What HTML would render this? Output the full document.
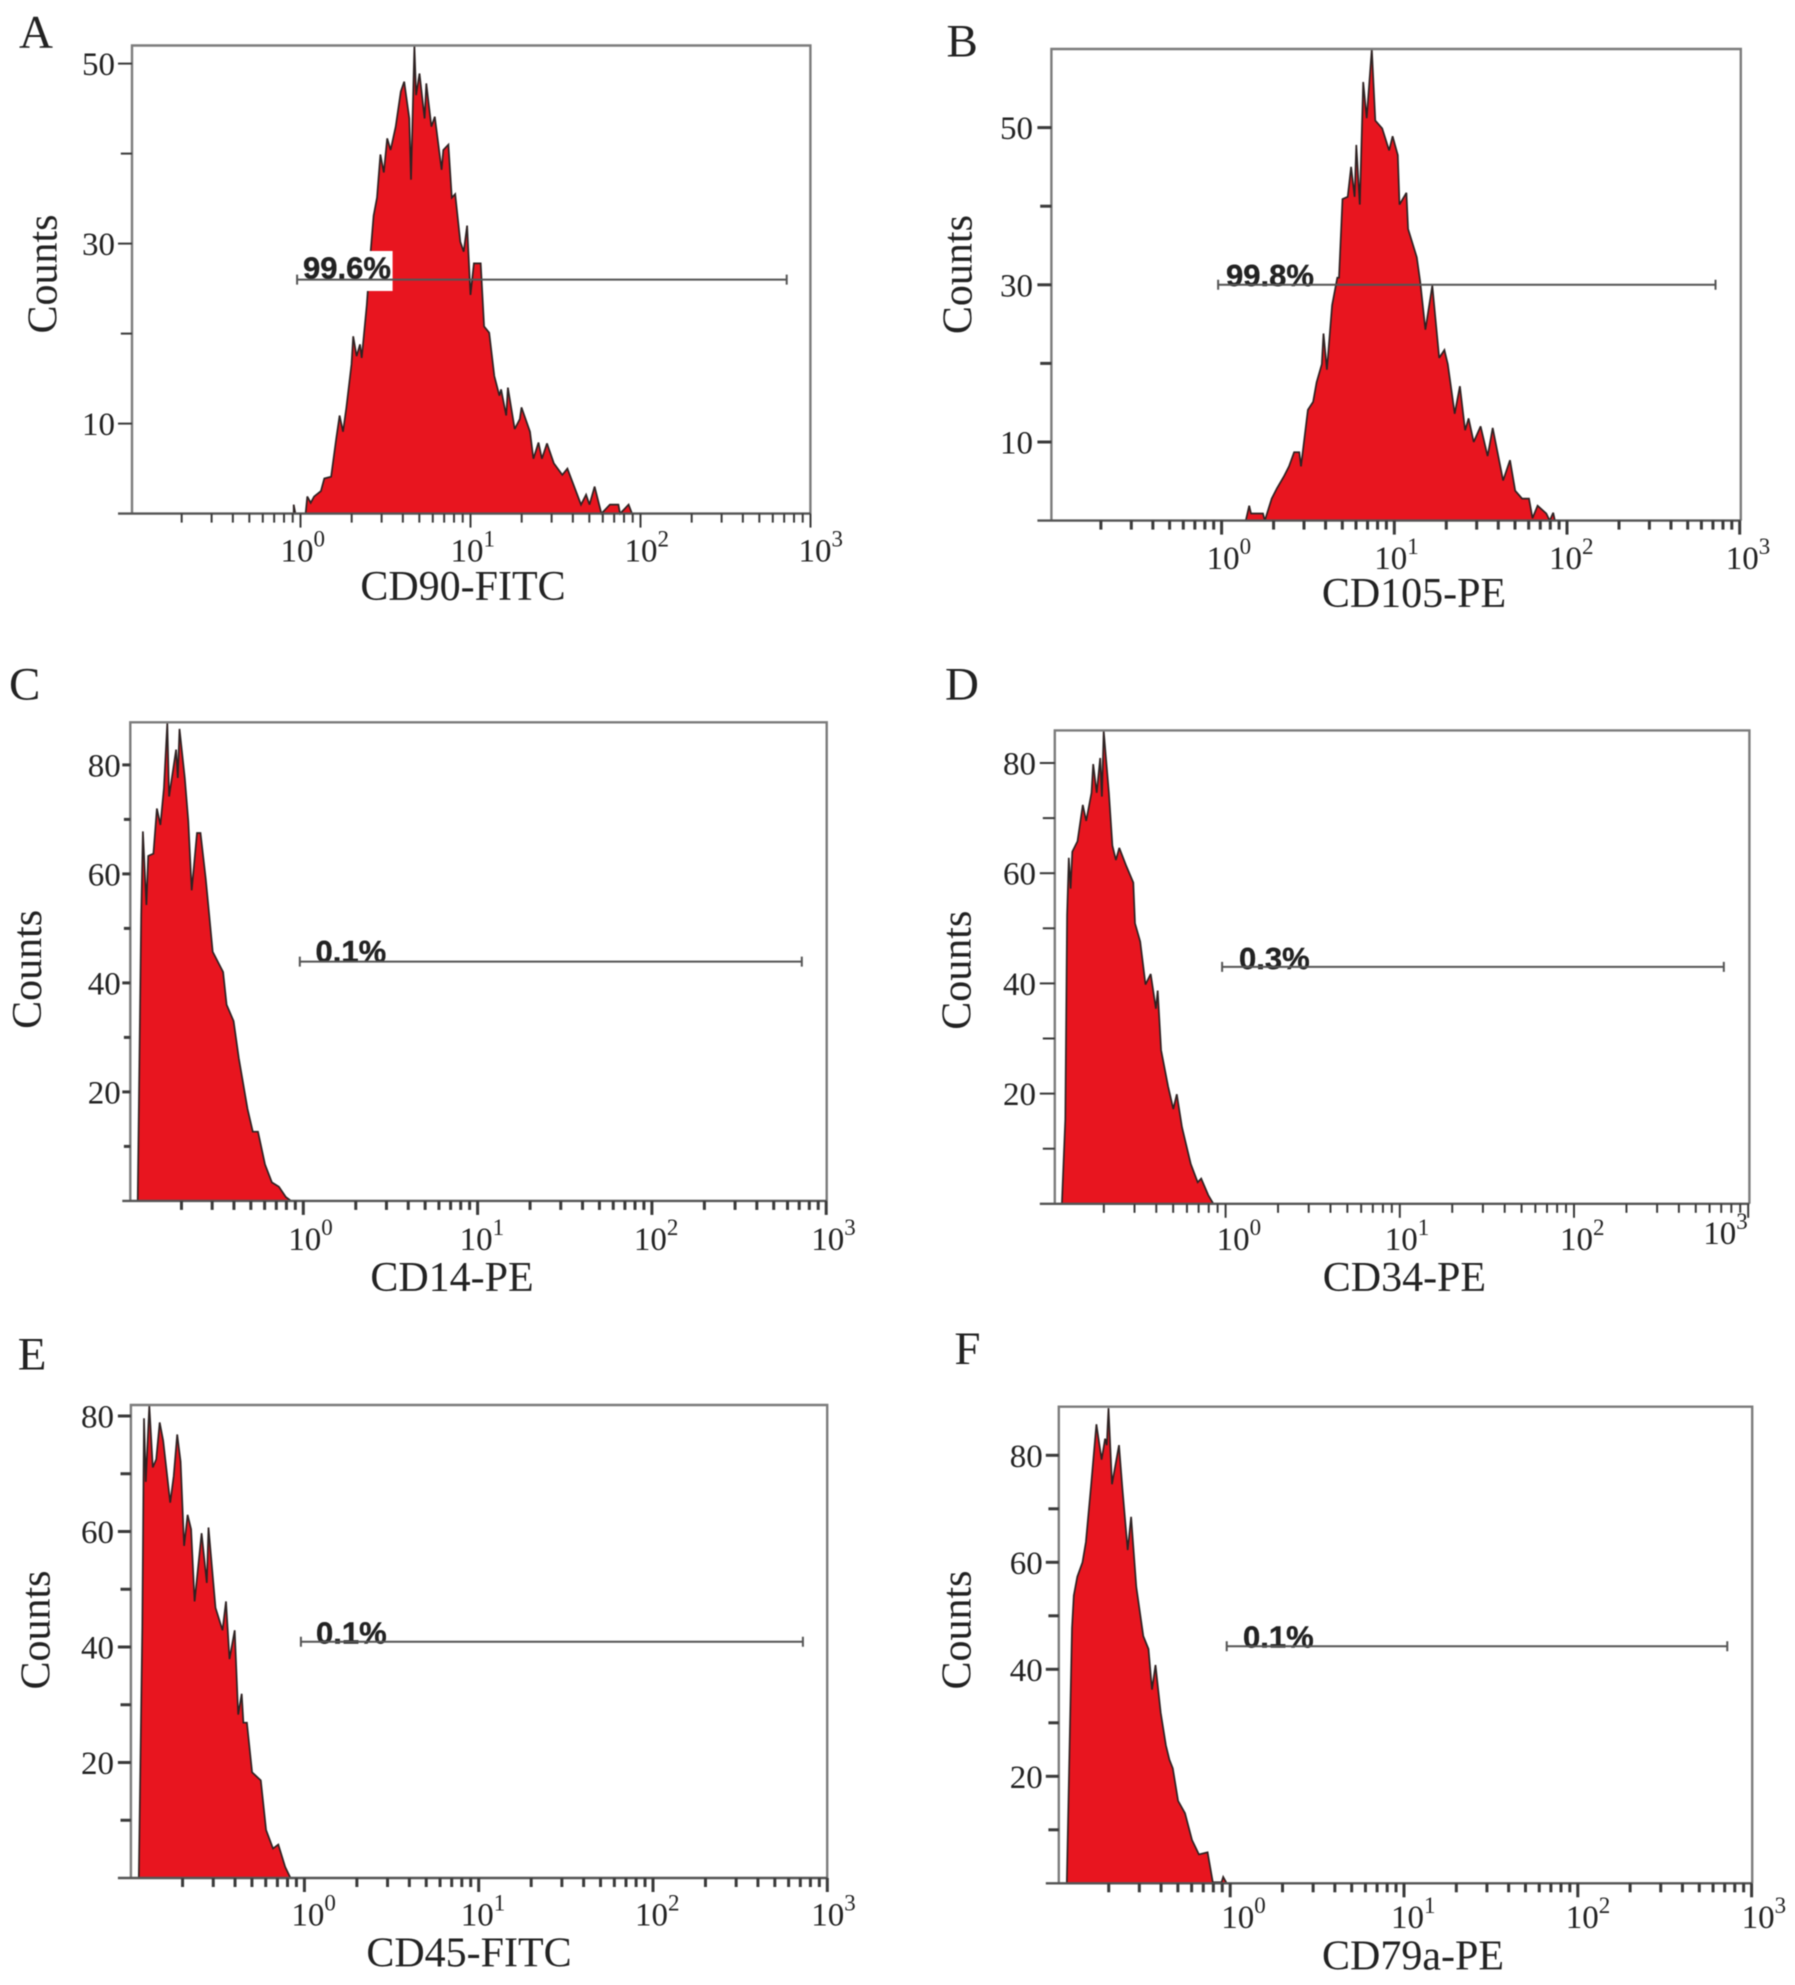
<!DOCTYPE html>
<html lang="en">
<head>
<meta charset="utf-8">
<title>Flow cytometry histograms of surface markers</title>
<style>
html,body{margin:0;padding:0;background:#fff;width:1795px;height:1985px;overflow:hidden}
svg{display:block;filter:blur(0.6px)}
text{font-family:"Liberation Serif",serif;fill:#222}
.gate-text{font-family:"Liberation Sans",sans-serif;font-weight:bold;font-size:31px;fill:#222;stroke:#222;stroke-width:0.4px}
</style>
</head>
<body>
<svg id="figure" xmlns="http://www.w3.org/2000/svg" width="1795" height="1985" viewBox="0 0 1795 1985"></svg>
<script>
// Panel A: CD90-FITC. Intensity is stored as log10(fluorescence), counts as events.
var logA = [-0.04,-0.04,-0.03,0.03,0.04,0.06,0.08,0.12,0.14,0.18,0.21,0.23,0.25,0.27,0.30,0.31,0.33,0.35,0.36,0.39,0.41,0.43,0.45,0.47,0.49,0.51,0.53,0.56,0.59,0.61,0.64,0.65,0.67,0.68,0.70,0.73,0.74,0.77,0.79,0.83,0.84,0.87,0.89,0.91,0.94,0.96,0.98,1.00,1.02,1.06,1.08,1.11,1.14,1.17,1.18,1.21,1.22,1.26,1.29,1.30,1.35,1.37,1.40,1.42,1.45,1.49,1.54,1.57,1.62,1.65,1.68,1.70,1.73,1.77,1.82,1.87,1.88,1.93,1.95];
var countsA = [0,1.0,0,0,1.9,1.2,1.9,2.5,3.9,4.1,8.3,10.9,9.1,11.8,16.6,19.7,17.5,18.8,17.3,23.2,28.5,33.1,35.1,39.9,37.9,41.7,40.4,43.0,46.9,48.0,43.9,37.1,52.0,46.5,48.9,43.9,47.8,43.0,44.1,38.2,40.4,41.0,35.1,35.5,30.2,29.1,32.0,24.3,27.8,27.8,20.8,20.1,15.3,13.1,13.8,10.9,14.0,9.4,10.5,11.8,9.1,6.1,7.9,6.1,7.8,5.6,4.3,5.0,2.5,1.0,2.1,1.0,3.0,0,1,1,0,1,0];
// Panel B: CD105-PE
var logB = [0.14,0.16,0.17,0.24,0.25,0.29,0.32,0.36,0.39,0.42,0.45,0.46,0.50,0.53,0.55,0.58,0.59,0.61,0.64,0.67,0.68,0.70,0.73,0.75,0.77,0.78,0.80,0.82,0.84,0.87,0.89,0.93,0.97,0.99,1.02,1.03,1.07,1.08,1.13,1.15,1.18,1.22,1.26,1.29,1.31,1.35,1.38,1.41,1.43,1.46,1.50,1.54,1.57,1.63,1.67,1.70,1.74,1.78,1.80,1.83,1.88,1.90,1.92,1.93];
var countsB = [0,1.9,0.9,0.9,0,2.8,4.1,5.6,6.9,8.7,8.7,6.9,14.1,15.1,17.6,19.9,23.8,19.2,27.4,30.9,30.9,40.9,41.2,45.0,41.2,47.8,40.2,55.8,51.2,60,50.9,49.9,47.1,48.9,46.5,40.2,41.7,37.1,33.5,30.4,24.3,29.9,20.7,21.7,19.9,13.6,17.1,11.5,13.0,10.0,12.0,8.2,11.8,5.1,7.7,3.8,2.8,2.8,0.3,1.9,0.9,0,1.0,0];
// Panel C: CD14-PE
var logC = [-0.95,-0.93,-0.92,-0.90,-0.89,-0.86,-0.84,-0.82,-0.80,-0.78,-0.77,-0.73,-0.72,-0.71,-0.68,-0.66,-0.64,-0.61,-0.59,-0.56,-0.54,-0.52,-0.46,-0.44,-0.40,-0.37,-0.32,-0.29,-0.26,-0.22,-0.18,-0.14,-0.10,-0.07];
var countsC = [0,52.5,67.8,54.3,63.3,63.7,72.0,69.0,75.7,87.7,74.2,82.8,77.6,86.6,77.6,69.7,57.0,67.5,67.5,59.2,52.5,45.7,42.0,36.0,33.0,26.2,16.9,12.7,12.7,6.7,3.4,2.6,0.7,0];
// Panel D: CD34-PE
var logD = [-0.94,-0.92,-0.91,-0.90,-0.89,-0.88,-0.85,-0.82,-0.80,-0.77,-0.76,-0.74,-0.72,-0.71,-0.70,-0.67,-0.65,-0.63,-0.61,-0.57,-0.53,-0.52,-0.49,-0.46,-0.43,-0.40,-0.39,-0.37,-0.33,-0.30,-0.28,-0.25,-0.20,-0.16,-0.14,-0.10,-0.07];
var countsD = [0,15.3,52.4,62.8,57.2,63.9,65.8,72.4,69.5,74.6,79.8,74.6,80.9,73.9,85.8,74.6,65.0,62.4,64.6,61.3,58.3,50.9,47.6,39.8,41.7,35.4,38.7,27.9,21.3,17.2,19.9,13.9,7.2,3.9,4.6,1.6,0];
// Panel E: CD45-FITC
var logE = [-0.95,-0.93,-0.92,-0.91,-0.89,-0.87,-0.85,-0.83,-0.81,-0.77,-0.75,-0.73,-0.71,-0.69,-0.67,-0.65,-0.63,-0.59,-0.56,-0.55,-0.51,-0.47,-0.45,-0.43,-0.40,-0.38,-0.36,-0.35,-0.33,-0.30,-0.25,-0.22,-0.18,-0.15,-0.11,-0.08];
var countsE = [0,43.3,79.6,68.6,81.8,71.1,72.5,78.9,75.7,65.0,69.6,76.8,72.1,57.5,62.9,60.4,47.9,59.7,51.1,60.7,46.8,42.9,47.9,37.9,42.9,28.3,31.9,26.9,26.9,18.3,16.9,8.3,5.1,5.8,1.9,0];
// Panel F: CD79a-PE
var logF = [-0.94,-0.91,-0.90,-0.88,-0.85,-0.83,-0.80,-0.77,-0.74,-0.72,-0.71,-0.70,-0.68,-0.64,-0.62,-0.59,-0.57,-0.54,-0.50,-0.47,-0.45,-0.43,-0.40,-0.37,-0.35,-0.33,-0.30,-0.26,-0.22,-0.18,-0.13,-0.10,-0.05,-0.04,-0.02];
var countsF = [0,47.7,53.8,57.3,60,63.8,74.6,85.8,79.2,83.1,81.9,88.8,74.6,81.9,73.8,62.3,68.5,55.4,46.2,43.8,36.2,40.8,31.9,25.8,23.1,21.5,15.4,13.1,8.1,5.4,5.8,0.2,0.2,1.2,0];

// Printed labels and axis tick values
var panelLetters = ['A','B','C','D','E','F'];
var markerNames = ['CD90-FITC','CD105-PE','CD14-PE','CD34-PE','CD45-FITC','CD79a-PE'];
var gatePercents = ['99.6%','99.8%','0.1%','0.3%','0.1%','0.1%'];
var gateCounts = [26.0,30.0,43.9,43.0,40.9,44.3];
var gateStartLog = [-0.02,-0.02,-0.02,-0.02,-0.02,-0.02];
var gateEndLog = [2.86,2.86,2.86,2.86,2.86,2.86];
var yMajorTicksTop = [10,30,50];
var yMinorTicksTop = [20,40];
var yMajorTicksLower = [20,40,60,80];
var yMinorTicksLower = [10,30,50,70];
var xDecades = [0,1,2,3];
var xMinorMultipliers = [2,3,4,5,6,7,8,9];

var svg = document.getElementById('figure');
var NS = 'http://www.w3.org/2000/svg';

function make(tag, attrs, parent) {
  var el = document.createElementNS(NS, tag);
  for (var k in attrs) el.setAttribute(k, attrs[k]);
  parent.appendChild(el);
  return el;
}

// Panel layout in page pixels
var layouts = [
  {key:'a',logs:logA,counts:countsA,left:132,right:810.4,top:45.5,bottom:513.6,x0:300.5,decade:170,unit:9.0,major:yMajorTicksTop,minor:yMinorTicksTop,
   letter:[19,47.5],xTitle:[463,600],yTitle:[56.5,274],gateText:[303,278.5],yLabelRight:115,yTickLen:14,xBase:561.7,xDx:[-20,-20,-16,-12],tickW:2,bg:[297.6,251,95,40]},
  {key:'b',logs:logB,counts:countsB,left:1051.4,right:1740.8,top:49,bottom:520.6,x0:1221.6,decade:172.7,unit:7.86,major:yMajorTicksTop,minor:yMinorTicksTop,
   letter:[946.5,56.3],xTitle:[1414,607],yTitle:[971.5,274.6],gateText:[1226,286],yLabelRight:1033,yTickLen:14,xBase:568.8,xDx:[-15,-20,-18,-14],tickW:3},
  {key:'c',logs:logC,counts:countsC,left:130.3,right:826.7,top:722.3,bottom:1200.9,x0:303.3,decade:174.3,unit:5.45,major:yMajorTicksLower,minor:yMinorTicksLower,
   letter:[9,699.6],xTitle:[452,1290.8],yTitle:[41,969.4],gateText:[315.5,962],yLabelRight:120.7,yTickLen:8,xBase:1250,xDx:[-15,-18,-18,-15],tickW:3},
  {key:'d',logs:logD,counts:countsD,left:1054.8,right:1749.4,top:730.4,bottom:1203.8,x0:1225.6,decade:174.2,unit:5.51,major:yMajorTicksLower,minor:yMinorTicksLower,
   letter:[945,699.4],xTitle:[1404.4,1290.8],yTitle:[970.4,970.2],gateText:[1239,969],yLabelRight:1036,yTickLen:15,xBase:1250,xDx:[-9,-15,-14,-45],tickW:2,lastBaseShift:-6},
  {key:'e',logs:logE,counts:countsE,left:130.9,right:827.2,top:1405,bottom:1878,x0:304.4,decade:174.3,unit:5.775,major:yMajorTicksLower,minor:yMinorTicksLower,
   letter:[17.7,1369.6],xTitle:[469,1966.5],yTitle:[49.5,1630],gateText:[316,1643.5],yLabelRight:114,yTickLen:13,xBase:1925.3,xDx:[-13,-18,-18,-16],tickW:3},
  {key:'f',logs:logF,counts:countsF,left:1058.8,right:1752.2,top:1406.7,bottom:1883.3,x0:1230.2,decade:173.8,unit:5.35,major:yMajorTicksLower,minor:yMinorTicksLower,
   letter:[954.4,1363.9],xTitle:[1413,1969.7],yTitle:[970.4,1630],gateText:[1243,1647.5],yLabelRight:1042.8,yTickLen:13,xBase:1927.8,xDx:[-9,-13,-12,-10],tickW:3}
];

layouts.forEach(function (p, i) {
  var xScale = function (logValue) { return p.x0 + logValue * p.decade; };
  var yScale = function (count) { return p.bottom - count * p.unit; };

  var g = make('g', {}, svg);
  
  

  var letter = make('text', {x: p.letter[0], y: p.letter[1], 'font-size': 47}, g);
  
  
  letter.textContent = panelLetters[i];

  // histogram fill and outline
  var d = '';
  for (var n = 0; n < p.logs.length; n++) {
    d += (n ? 'L' : 'M') + xScale(p.logs[n]).toFixed(1) + ' ' + yScale(p.counts[n]).toFixed(1);
  }
  var fill = make('path', {d: d + 'Z', fill: '#e8151f', stroke: 'none'}, g);
  
  
  var outline = make('path', {d: d, fill: 'none', stroke: '#2e2222', 'stroke-width': 1.7, 'stroke-linejoin': 'miter', 'stroke-miterlimit': 3}, g);
  
  

  // frame
  var frame = make('path', {d: 'M' + p.left + ' ' + p.bottom + 'V' + p.top + 'H' + p.right + 'V' + p.bottom, fill: 'none', stroke: '#7c7c7c', 'stroke-width': 2.4}, g);
  
  

  // x axis line, extends left of the frame as the zero tick
  var xAxis = make('line', {x1: p.left - p.yTickLen, x2: p.right, y1: p.bottom, y2: p.bottom, stroke: '#555', 'stroke-width': 2.4}, g);
  
  

  // x ticks
  for (var dec = -1; dec < 3; dec++) {
    xMinorMultipliers.forEach(function (m) {
      var tx = xScale(dec + Math.log10(m));
      var t = make('line', {x1: tx, x2: tx, y1: p.bottom, y2: p.bottom + 9, stroke: '#3a3a3a', 'stroke-width': p.tickW}, g);
      
      
    });
  }
  xDecades.forEach(function (dc, j) {
    var tx = xScale(dc);
    var t = make('line', {x1: tx, x2: tx, y1: p.bottom, y2: p.bottom + 14, stroke: '#3a3a3a', 'stroke-width': p.tickW}, g);
    
    
    var shift = (j === 3 && p.lastBaseShift) ? p.lastBaseShift : 0;
    var lab = make('text', {x: tx + p.xDx[j], y: p.xBase + shift, 'font-size': 33}, g);
    
    
    var base = make('tspan', {}, lab);
    base.textContent = '10';
    var sup = make('tspan', {dy: -15, 'font-size': 23}, lab);
    sup.textContent = String(dc);
  });

  // y ticks
  p.major.forEach(function (v) {
    var ty = yScale(v);
    var t = make('line', {x1: p.left - p.yTickLen, x2: p.left, y1: ty, y2: ty, stroke: '#3a3a3a', 'stroke-width': p.tickW}, g);
    
    
    var lab = make('text', {x: p.yLabelRight, y: ty + 11.5, 'font-size': 33, 'text-anchor': 'end'}, g);
    
    
    lab.textContent = String(v);
  });
  p.minor.forEach(function (v) {
    var ty = yScale(v);
    var t = make('line', {x1: p.left - p.yTickLen * 0.8, x2: p.left, y1: ty, y2: ty, stroke: '#3a3a3a', 'stroke-width': p.tickW}, g);
    
    
  });

  // gate
  if (p.bg) {
    var bg = make('rect', {x: p.bg[0], y: p.bg[1], width: p.bg[2], height: p.bg[3], fill: '#fff'}, g);
    
    
  }
  var gateText = make('text', {x: p.gateText[0], y: p.gateText[1], 'class': 'gate-text'}, g);
  
  
  gateText.textContent = gatePercents[i];

  var gy = yScale(gateCounts[i]);
  var gx1 = xScale(gateStartLog[i]);
  var gx2 = xScale(gateEndLog[i]);
  var gate = make('path', {d: 'M' + gx1 + ' ' + (gy - 5) + 'V' + (gy + 5) + 'M' + gx1 + ' ' + gy + 'H' + gx2 + 'M' + gx2 + ' ' + (gy - 5) + 'V' + (gy + 5), fill: 'none', stroke: '#555', 'stroke-width': 2}, g);
  
  

  // axis titles
  var xTitle = make('text', {x: p.xTitle[0], y: p.xTitle[1], 'font-size': 42, 'text-anchor': 'middle'}, g);
  
  
  xTitle.textContent = markerNames[i];

  var yTitle = make('text', {x: p.yTitle[0], y: p.yTitle[1], 'font-size': 42, 'text-anchor': 'middle', transform: 'rotate(-90 ' + p.yTitle[0] + ' ' + p.yTitle[1] + ')'}, g);
  
  
  yTitle.textContent = 'Counts';
});
</script>
</body>
</html>
